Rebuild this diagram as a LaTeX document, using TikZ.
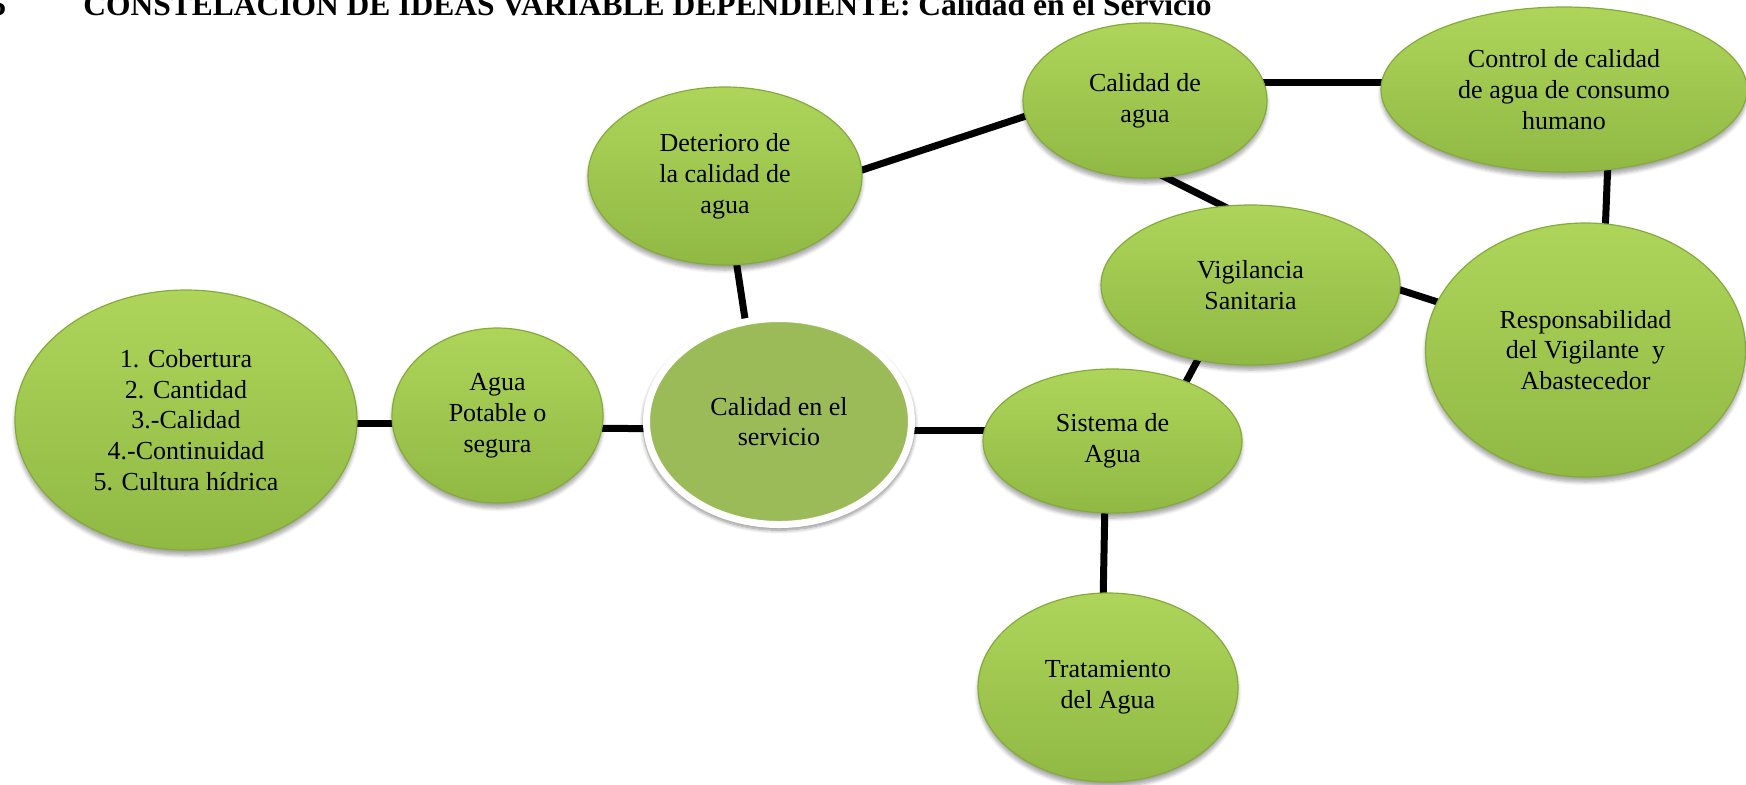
\documentclass[tikz,border=0pt]{standalone}
\usepackage{fontspec}
\setmainfont{Liberation Serif}
\usetikzlibrary{shapes.geometric,shadows.blur,backgrounds}

\definecolor{leafTop}{HTML}{AED55A}
\definecolor{leafBot}{HTML}{90B944}
\definecolor{leafRim}{HTML}{84AA3C}
\definecolor{hubFill}{HTML}{9BBB59}

\tikzset{
  ideabox/.style={ellipse, inner sep=0pt, align=center,
    top color=leafTop, bottom color=leafBot, draw=leafRim, line width=0.6pt,
    font=\fontsize{13}{15.4}\selectfont,
    blur shadow={shadow xshift=0pt, shadow yshift=-2.5pt,
                 shadow blur steps=6, shadow opacity=35}},
  hubbox/.style={ellipse, inner sep=0pt, align=center,
    fill=hubFill, draw=white, line width=3.5pt,
    font=\fontsize{13}{15.4}\selectfont,
    blur shadow={shadow xshift=0pt, shadow yshift=-1.5pt, shadow scale=1.025,
                 shadow blur steps=8, shadow opacity=45}},
  radii/.style 2 args={minimum width=#1pt, minimum height=#2pt},
  link/.style={line width=3.5pt, black},
  titletext/.style={anchor=base west, inner sep=0pt,
    font=\fontsize{15.75}{18}\selectfont\bfseries}
}

\begin{document}
\begin{tikzpicture}[x=0.5pt, y=-0.5pt]
  \useasboundingbox (0,0) rectangle (1746,784);
  \clip (0,0) rectangle (1746,784);

  % heading
  \node[titletext] (title) at (-10,15)
    {5\hspace{38.6pt}CONSTELACIÓN DE IDEAS VARIABLE DEPENDIENTE: Calidad en el Servicio};

  % idea ellipses
  \node[ideabox, radii={171}{130}] (dims) at (186,420)
    {1. Cobertura\\2. Cantidad\\3.-Calidad\\4.-Continuidad\\5. Cultura hídrica};
  \node[ideabox, radii={105.5}{87.5}] (agua) at (497.5,415.5)
    {Agua\\Potable o\\segura};
  \node[hubbox, radii={132.5}{103}] (hub) at (779,421.5)
    {Calidad en el\\servicio};
  \node[ideabox, radii={137}{89}] (det) at (725,176)
    {Deterioro de\\la calidad de\\agua};
  \node[ideabox, radii={122}{77.5}] (cal) at (1145,100.5)
    {Calidad de\\agua};
  \node[ideabox, radii={183}{82.5}] (ctrl) at (1564,89.5)
    {Control de calidad\\de agua de consumo\\humano};
  \node[ideabox, radii={149.5}{80}] (vig) at (1250.5,285)
    {Vigilancia\\Sanitaria};
  \node[ideabox, radii={160}{127}] (resp) at (1585.5,350)
    {Responsabilidad\\del Vigilante\ \ y\\Abastecedor};
  \node[ideabox, radii={129.5}{72}] (sis) at (1112.5,441)
    {Sistema de\\Agua};
  \node[ideabox, radii={130}{94.5}] (trat) at (1108,687.5)
    {Tratamiento\\del Agua};

  % connectors, behind the ellipses
  \begin{pgfonlayer}{background}
    \draw[link] ([shift={(114,3)}]dims.center) -- ([shift={(-57.5,7.5)}]agua.center);
    \draw[link] ([shift={(62.5,12.5)}]agua.center) -- ([shift={(-79,7.5)}]hub.center);
    \draw[link] ([shift={(81,8.5)}]hub.center) -- ([shift={(-62.5,-11)}]sis.center);
    \draw[link] ([shift={(-30,-76.5)}]hub.center) -- ([shift={(8,64)}]det.center);
    \draw[link] ([shift={(125,-2)}]det.center) -- ([shift={(-105,10.9)}]cal.center);
    \draw[link] ([shift={(105,-18.5)}]cal.center) -- ([shift={(-164,-7.5)}]ctrl.center);
    \draw[link] ([shift={(5,69)}]cal.center) -- ([shift={(-15.5,-73)}]vig.center);
    \draw[link] ([shift={(44,70.5)}]ctrl.center) -- ([shift={(19.5,-115)}]resp.center);
    \draw[link] ([shift={(134.5,0)}]vig.center) -- ([shift={(-135.5,-44)}]resp.center);
    \draw[link] ([shift={(-47.5,65)}]vig.center) -- ([shift={(68,-49)}]sis.center);
    \draw[link] ([shift={(-7.5,59)}]sis.center) -- ([shift={(-5,-82.5)}]trat.center);
  \end{pgfonlayer}
\end{tikzpicture}
\end{document}
